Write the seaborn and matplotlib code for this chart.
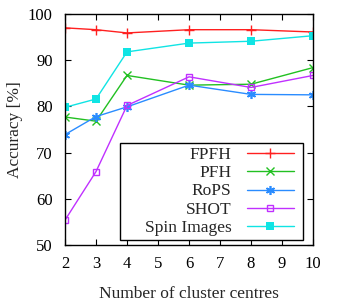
import pandas as pd
import matplotlib
matplotlib.use('Agg')
import matplotlib.pyplot as plt
from matplotlib.patches import Rectangle
import seaborn as sns

clusters = [2, 3, 4, 6, 8, 10]
fpfh = [97.0, 96.6, 95.9, 96.6, 96.6, 96.1]
pfh = [77.7, 76.8, 86.7, 84.6, 84.8, 88.4]
rops = [73.9, 77.8, 79.9, 84.6, 82.6, 82.5]
shot = [55.4, 65.9, 80.2, 86.4, 84.1, 86.7]
spin = [79.8, 81.6, 91.8, 93.7, 94.1, 95.3]

names = ['FPFH', 'PFH', 'RoPS', 'SHOT', 'Spin Images']
series = [fpfh, pfh, rops, shot, spin]

rows = []
for name, vals in zip(names, series):
    for c, v in zip(clusters, vals):
        rows.append({'clusters': c, 'accuracy': v, 'method': name})
df = pd.DataFrame(rows)

sns.set_style('ticks')
plt.rcParams['font.family'] = ['Liberation Serif', 'DejaVu Serif']

colors = {'FPFH': '#ff2020', 'PFH': '#22c022', 'RoPS': '#2a8cff',
          'SHOT': '#c030ff', 'Spin Images': '#10e4e4'}
marker_kw = {
    'FPFH': dict(marker='+', markersize=7, markeredgewidth=1),
    'PFH': dict(marker='x', markersize=5.5, markeredgewidth=1),
    'RoPS': dict(marker=(6, 2, 0), markersize=6.5, markeredgewidth=1.2),
    'SHOT': dict(marker='s', markersize=5, markerfacecolor='none', markeredgewidth=1),
    'Spin Images': dict(marker='s', markersize=5.5, markeredgewidth=0),
}

fig = plt.figure(figsize=(3.44, 3.04), dpi=100)
ax = fig.add_axes([0.189, 0.194, 0.721, 0.760])

for name in names:
    sub = df[df['method'] == name]
    kw = dict(marker_kw[name])
    kw.setdefault('markeredgecolor', colors[name])
    sns.lineplot(data=sub, x='clusters', y='accuracy', color=colors[name],
                 linewidth=1, label=name, ax=ax, **kw)

ax.set_xlim(2, 10)
ax.set_ylim(50, 100)
ax.set_xticks(range(2, 11))
ax.set_yticks(range(50, 101, 10))
ax.tick_params(direction='in', length=4, top=True, right=True, labelsize=12,
               width=0.8, colors='black')
ax.tick_params(axis='x', pad=8)
ax.tick_params(axis='y', pad=9)
for s in ax.spines.values():
    s.set_linewidth(1)
    s.set_color('black')
ax.set_xlabel('Number of cluster centres', fontsize=12.5, labelpad=10)
ax.set_ylabel('Accuracy [%]', fontsize=12.5, labelpad=3)

# gnuplot-style key box, wider than the entries
ax.add_patch(Rectangle((0.222, 0.022), 0.738, 0.421, transform=ax.transAxes,
                       facecolor='white', edgecolor='black', linewidth=1,
                       zorder=4.5))
leg = ax.legend(loc='lower right', bbox_to_anchor=(0.94, 0.022), frameon=False,
                markerfirst=False, handlelength=2.7, fontsize=12.5,
                borderpad=0.25, labelspacing=0.12, handletextpad=0.9,
                borderaxespad=0)
leg.set_zorder(5)
leg._legend_box.align = 'right'
for vp in leg._legend_box.get_children()[1].get_children():
    for hp in vp.get_children():
        hp.align = 'right'

fig.savefig('out.png', dpi=100)
